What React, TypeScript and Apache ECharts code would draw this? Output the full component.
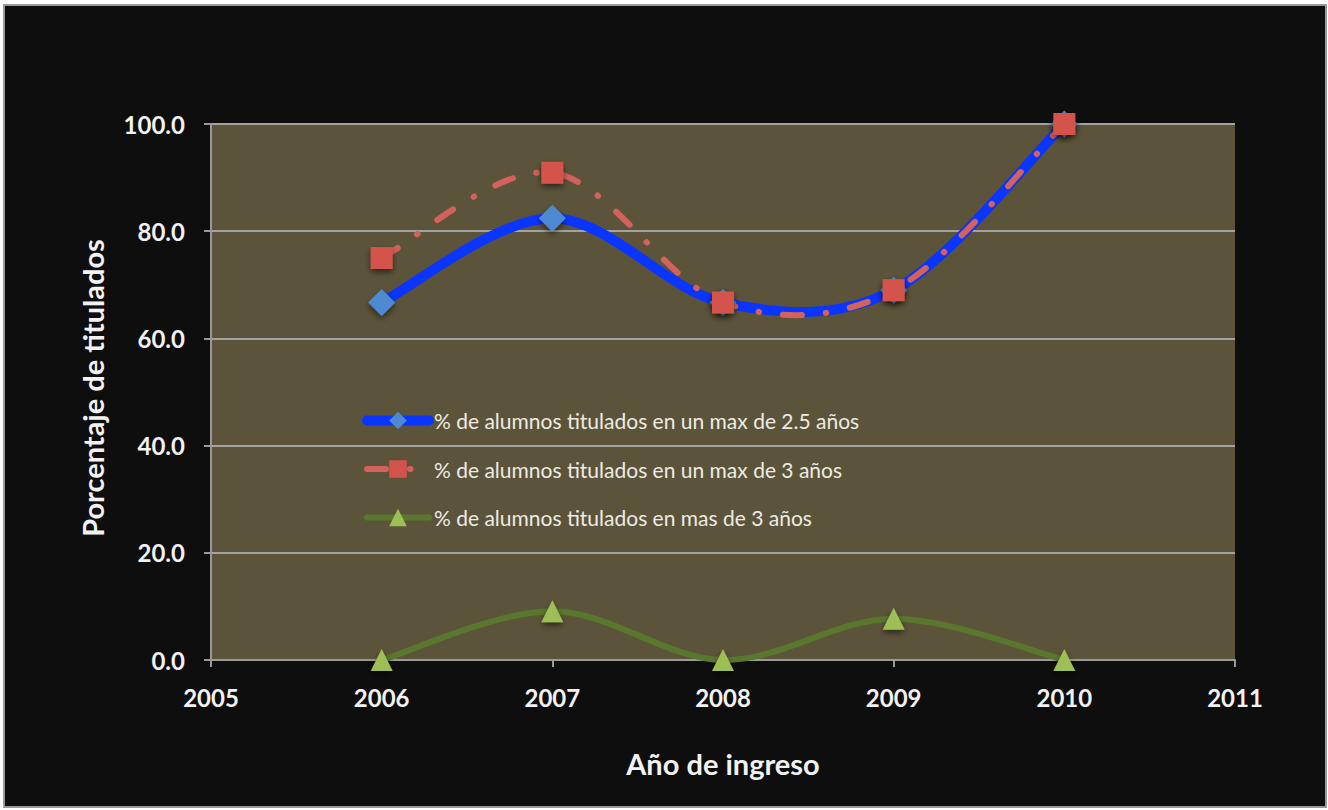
import React, { useEffect, useRef } from "react";
import * as echarts from "echarts";

const years = [2006, 2007, 2008, 2009, 2010];
const serie25 = [66.7, 82.4, 66.7, 69.0, 100.0];
const serie3 = [75.0, 90.9, 66.7, 69.0, 100.0];
const serieMas3 = [0.0, 9.1, 0.0, 7.7, 0.0];
const seriesNames = [
  "% de alumnos titulados en un max de 2.5 años",
  "% de alumnos titulados en un max de 3 años",
  "% de alumnos titulados en mas de 3 años",
];
const xTitle = "Año de ingreso";
const yTitle = "Porcentaje de titulados";

const FONT = "Lato, 'Open Sans', sans-serif";

// Excel-like smoothing (Catmull-Rom bezier) through pixel coordinates
function smoothPath(pts: number[][]): string {
  let d = `M${pts[0][0]},${pts[0][1]}`;
  for (let i = 0; i < pts.length - 1; i++) {
    const p0 = pts[i - 1] || pts[i];
    const p1 = pts[i];
    const p2 = pts[i + 1];
    const p3 = pts[i + 2] || pts[i + 1];
    const c1x = p1[0] + (p2[0] - p0[0]) / 6;
    const c1y = p1[1] + (p2[1] - p0[1]) / 6;
    const c2x = p2[0] - (p3[0] - p1[0]) / 6;
    const c2y = p2[1] - (p3[1] - p1[1]) / 6;
    d += ` C${c1x},${c1y} ${c2x},${c2y} ${p2[0]},${p2[1]}`;
  }
  return d;
}

export default function App() {
  const ref = useRef<HTMLDivElement>(null);
  useEffect(() => {
    document.body.style.margin = "0";
    const chart = echarts.init(ref.current!, null, { renderer: "svg" });
    const pair = (vals: number[]) => years.map((y, i) => [y, vals[i]]);
    const shadow = {
      shadowBlur: 6,
      shadowColor: "rgba(0,0,0,0.55)",
      shadowOffsetY: 3,
    };
    const styles = [
      { color: "#0a35ff", width: 10, dash: null as number[] | null, marker: "#4d8ad2", symbol: "diamond", size: 27 },
      { color: "#d2625b", width: 6, dash: [19, 24, 0.5, 24], marker: "#d4524c", symbol: "rect", size: 22 },
      { color: "#5a772e", width: 6, dash: null as number[] | null, marker: "#9dbf55", symbol: "triangle", size: 22 },
    ];
    const values = [serie25, serie3, serieMas3];
    const zs = [2, 4, 2];

    const curveSeries = values.map((vals, k) => ({
      name: "curve" + k,
      type: "custom",
      silent: true,
      z: zs[k],
      data: pair(vals),
      encode: { x: 0, y: 1 },
      renderItem: (params: any, api: any) => {
        if (params.dataIndex !== 0) return null;
        const pts = years.map((y, i) => api.coord([y, vals[i]]));
        const st: any = {
          fill: "none",
          stroke: styles[k].color,
          lineWidth: styles[k].width,
          lineCap: "round",
          lineJoin: "round",
        };
        if (styles[k].dash) st.lineDash = styles[k].dash;
        return { type: "path", shape: { pathData: smoothPath(pts) }, style: st };
      },
    }));

    const markerSeries = values.map((vals, k) => ({
      name: seriesNames[k],
      type: "line",
      data: pair(vals),
      symbol: styles[k].symbol,
      symbolSize: styles[k].size,
      z: zs[k] + 1,
      lineStyle: { width: 0, opacity: 0 },
      itemStyle: { color: styles[k].marker, ...shadow },
    }));

    chart.setOption({
      animation: false,
      backgroundColor: "transparent",
      textStyle: { fontFamily: FONT },
      grid: {
        left: 211,
        right: 93,
        top: 124,
        bottom: 150,
        show: true,
        backgroundColor: "#5c543a",
        borderWidth: 0,
      },
      legend: {
        orient: "vertical",
        left: 362,
        top: 410,
        padding: 0,
        itemWidth: 62,
        itemHeight: 22,
        itemGap: 27.5,
        textStyle: { color: "#ecebe4", fontSize: 21, fontFamily: FONT },
        data: seriesNames.map((n, k) => ({
          name: n,
          lineStyle: {
            color: styles[k].color,
            width: styles[k].width,
            type: styles[k].dash || "solid",
            cap: "round",
            opacity: 1,
          },
        })),
      },
      xAxis: {
        type: "value",
        min: 2005,
        max: 2011,
        interval: 1,
        name: xTitle,
        nameLocation: "middle",
        nameGap: 89,
        nameTextStyle: { color: "#f2f2f2", fontSize: 29, fontWeight: "bold", fontFamily: FONT },
        axisLine: { show: true, lineStyle: { color: "#9a9a9a", width: 2 } },
        axisTick: { show: true, length: 7, lineStyle: { color: "#9a9a9a", width: 2 } },
        axisLabel: {
          color: "#f2f2f2",
          fontSize: 24,
          fontWeight: "bold",
          margin: 25,
          formatter: (v: number) => String(v),
        },
        splitLine: { show: false },
      },
      yAxis: {
        type: "value",
        min: 0,
        max: 100,
        interval: 20,
        name: yTitle,
        nameLocation: "middle",
        nameGap: 104,
        nameTextStyle: {
          color: "#f2f2f2",
          fontSize: 29,
          fontWeight: "bold",
          fontFamily: FONT,
          padding: [0, 0, 0, 8],
        },
        axisLine: { show: true, lineStyle: { color: "#9a9a9a", width: 2 } },
        axisTick: { show: true, length: 7, lineStyle: { color: "#9a9a9a", width: 2 } },
        axisLabel: {
          color: "#f2f2f2",
          fontSize: 24,
          fontWeight: "bold",
          margin: 26,
          formatter: (v: number) => v.toFixed(1),
        },
        splitLine: { show: true, lineStyle: { color: "#a3a3a3", width: 2 } },
      },
      series: [...curveSeries, ...markerSeries],
    });
    return () => chart.dispose();
  }, []);

  return (
    <div style={{ position: "fixed", left: 0, top: 0, width: 1328, height: 810, background: "#ffffff" }}>
      <div
        style={{
          position: "absolute",
          left: 3,
          top: 4,
          width: 1320,
          height: 800,
          border: "2px solid #9a9a9a",
          background: "#0e0e0e",
        }}
      />
      <div ref={ref} style={{ position: "absolute", left: 0, top: 0, width: 1328, height: 810 }} />
    </div>
  );
}
